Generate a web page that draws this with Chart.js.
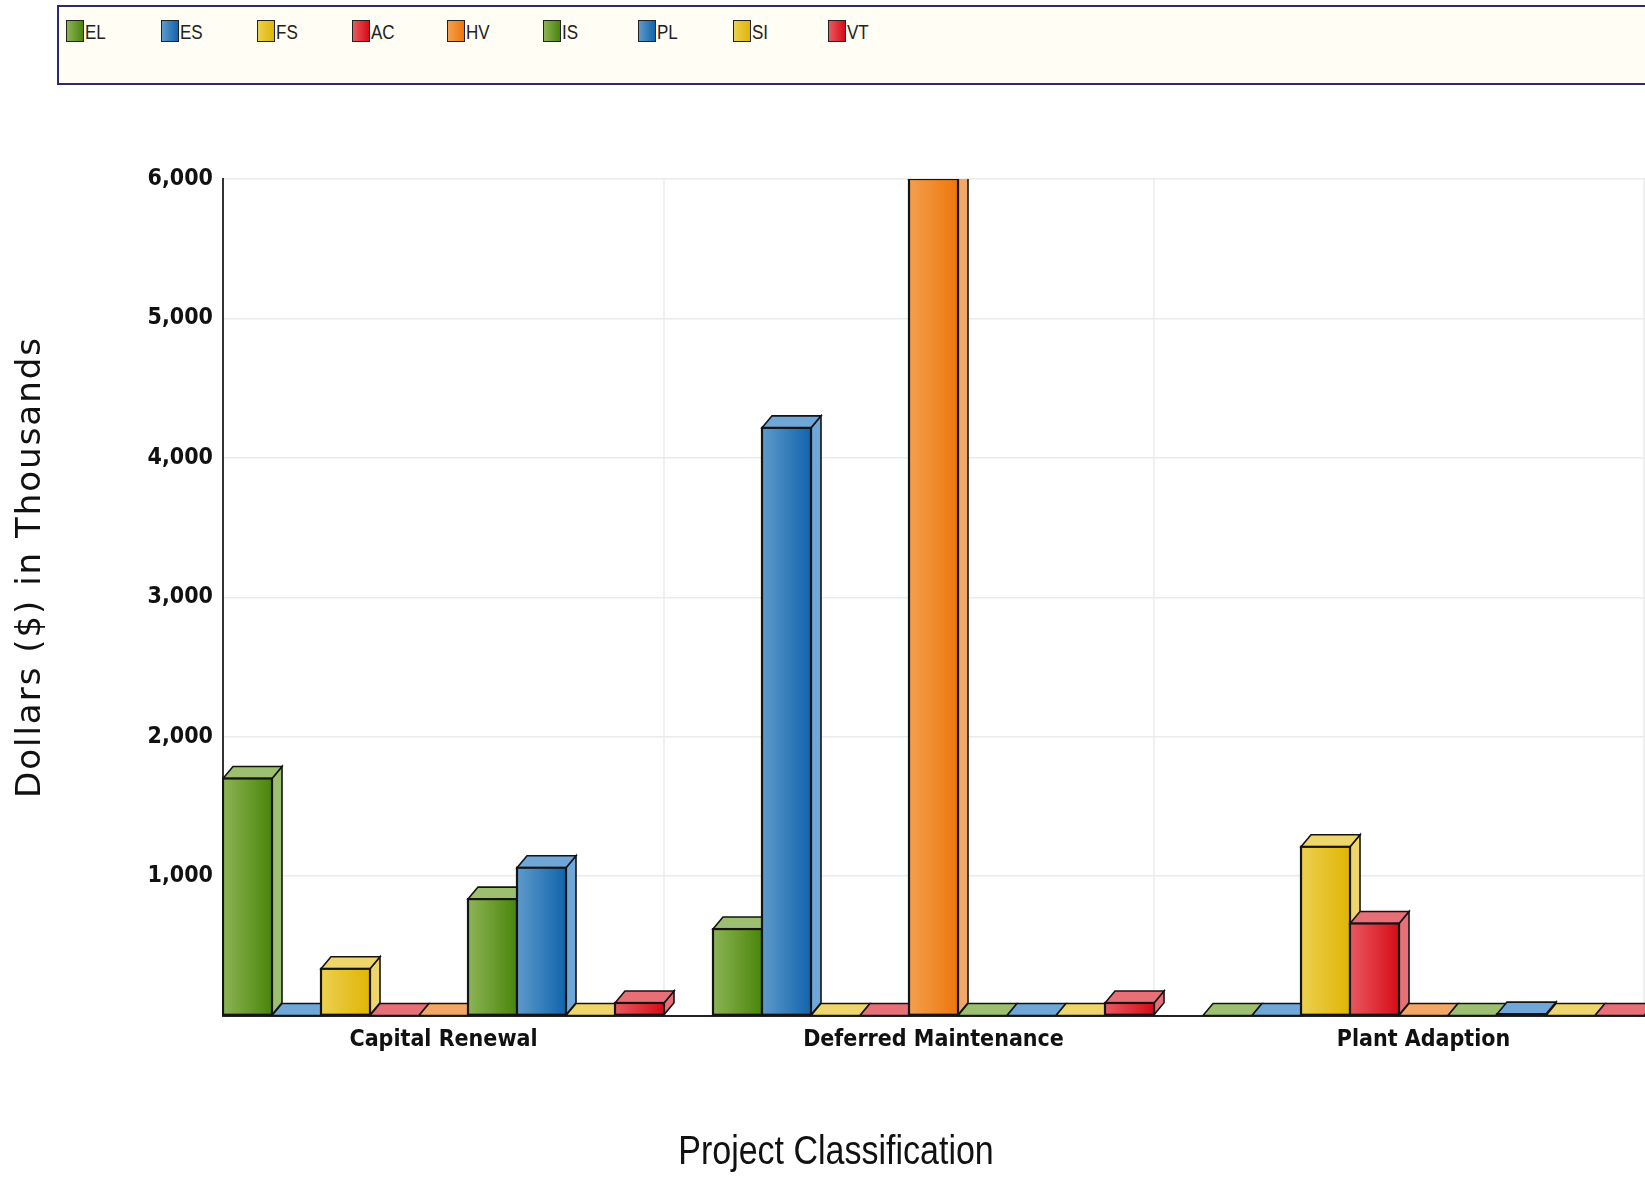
<!DOCTYPE html>
<html>
<head>
<meta charset="utf-8">
<title>Project Classification</title>
<script src="https://cdn.jsdelivr.net/npm/chart.js@4.4.0/dist/chart.umd.min.js"></script>
<style>
  html, body { margin: 0; padding: 0; background: #fff; overflow: hidden; }
  #wrap { position: relative; width: 1645px; height: 1177px; }
  #chart { position: absolute; left: 0; top: 0; }
  #legend {
    position: absolute; left: 57px; top: 5px; width: 1700px; height: 76px;
    border: 2px solid #2c2a6e; background: #fffdf4;
  }
  .item {
    position: absolute; top: 13px; display: flex; align-items: flex-start;
    font-family: "Liberation Sans Narrow", "Liberation Sans", sans-serif;
    font-size: 20px; color: #222; line-height: 24px;
  }
  .item .txt { display: inline-block; transform: scaleX(0.85); transform-origin: left center; }
  .sw { width: 16px; height: 20px; border: 1.5px solid #222; margin-right: 1px; }
</style>
</head>
<body>
<div id="wrap">
  <canvas id="chart" width="1645" height="1177"></canvas>
  <div id="legend"></div>
</div>
<script>
const categories = ['Capital Renewal', 'Deferred Maintenance', 'Plant Adaption'];
const seriesNames = ['EL', 'ES', 'FS', 'AC', 'HV', 'IS', 'PL', 'SI', 'VT'];

// values in thousands of dollars, one per category
const EL = [1700, 620, 0];
const ES = [0, 4215, 0];
const FS = [335, 0, 1210];
const AC = [0, 0, 660];
const HV = [0, 6000, 0];
const IS = [835, 0, 0];
const PL = [1060, 0, 10];
const SI = [0, 0, 0];
const VT = [90, 90, 0];
const seriesData = [EL, ES, FS, AC, HV, IS, PL, SI, VT];

const yMin = 0;
const yMax = 6000;
const yStep = 1000;
const yTitle = 'Dollars ($) in Thousands';
const xTitle = 'Project Classification';

// [front light, front dark, top/side face]
const green = ['#8cb456', '#4a850a', '#9dc070'];
const blue = ['#5e9acb', '#1164ac', '#6ea7d8'];
const yellow = ['#ecd050', '#e0b505', '#eed66c'];
const red = ['#ea5860', '#d60c16', '#e66f78'];
const orange = ['#f2a050', '#ee760a', '#f3a764'];
const palette = [green, blue, yellow, red, orange, green, blue, yellow, red];

const tickFont = { family: "'DejaVu Sans Condensed', 'DejaVu Sans', sans-serif", size: 23, weight: 'bold' };

// legend
const legendEl = document.getElementById('legend');
seriesNames.forEach((name, i) => {
  const item = document.createElement('div');
  item.className = 'item';
  item.style.left = (7 + i * 95.3) + 'px';
  item.innerHTML = `<span class="sw" style="background:linear-gradient(90deg, ${palette[i][0]}, ${palette[i][1]})"></span><span class="txt">${name}</span>`;
  legendEl.appendChild(item);
});

const depth = { dx: 10, dy: 12 };

const bars3d = {
  id: 'bars3d',
  beforeDatasetsDraw(chart) {
    // vertical grid lines sit at the right end of each group
    const { ctx, chartArea: a, scales: { x } } = chart;
    ctx.save();
    ctx.strokeStyle = '#ebebeb';
    ctx.lineWidth = 1.5;
    categories.forEach((c, i) => {
      const px = x.getPixelForValue(i + 0.45);
      ctx.beginPath();
      ctx.moveTo(px, a.top);
      ctx.lineTo(px, a.bottom);
      ctx.stroke();
    });
    ctx.restore();
  },
  afterDatasetsDraw(chart) {
    const { ctx, chartArea: a } = chart;
    ctx.save();
    ctx.beginPath();
    ctx.rect(a.left - 1, a.top, a.right - a.left + 2, a.bottom - a.top + 3);
    ctx.clip();
    ctx.lineJoin = 'miter';
    chart.data.datasets.forEach((ds, i) => {
      const meta = chart.getDatasetMeta(i);
      const col = palette[i];
      meta.data.forEach(bar => {
        const { x, y, base, width } = bar.getProps(['x', 'y', 'base', 'width'], true);
        const l = x - width / 2, r = x + width / 2;
        const { dx, dy } = depth;
        ctx.strokeStyle = '#141414';
        ctx.lineWidth = 1.6;
        // side
        ctx.beginPath();
        ctx.moveTo(r, y);
        ctx.lineTo(r + dx, y - dy);
        ctx.lineTo(r + dx, base - dy);
        ctx.lineTo(r, base);
        ctx.closePath();
        ctx.fillStyle = col[2];
        ctx.fill();
        ctx.stroke();
        // top
        ctx.beginPath();
        ctx.moveTo(l, y);
        ctx.lineTo(l + dx, y - dy);
        ctx.lineTo(r + dx, y - dy);
        ctx.lineTo(r, y);
        ctx.closePath();
        ctx.fill();
        ctx.stroke();
        // front
        if (base - y > 0.5) {
          const g = ctx.createLinearGradient(l, 0, r, 0);
          g.addColorStop(0, col[0]);
          g.addColorStop(1, col[1]);
          ctx.fillStyle = g;
          ctx.fillRect(l, y, width, base - y);
          ctx.lineWidth = 2.2;
          ctx.strokeRect(l, y, width, base - y);
        }
      });
    });
    ctx.restore();
  },
  afterDraw(chart) {
    const { ctx } = chart;
    ctx.save();
    ctx.fillStyle = '#111';
    ctx.textAlign = 'center';
    ctx.textBaseline = 'middle';
    ctx.save();
    ctx.translate(836, 1153);
    ctx.scale(0.85, 1);
    ctx.font = "40px 'Liberation Sans Narrow', 'Liberation Sans', sans-serif";
    ctx.fillText(xTitle, 0, 0);
    ctx.restore();
    ctx.translate(31, 567);
    ctx.rotate(-Math.PI / 2);
    ctx.font = "34px 'DejaVu Sans', sans-serif";
    ctx.letterSpacing = '2px';
    ctx.fillText(yTitle, 0, 0);
    ctx.restore();
  }
};

new Chart(document.getElementById('chart'), {
  type: 'bar',
  data: {
    datasets: seriesNames.map((name, i) => ({
      label: name,
      data: seriesData[i].map((v, j) => ({ x: j, y: v })),
      backgroundColor: 'rgba(0,0,0,0)',
      borderWidth: 0,
      categoryPercentage: 0.9,
      barPercentage: 1.0
    }))
  },
  options: {
    responsive: false,
    animation: false,
    layout: { padding: { top: 179, left: 0, right: 0, bottom: 0 } },
    plugins: {
      legend: { display: false },
      tooltip: { enabled: false }
    },
    scales: {
      x: {
        type: 'linear',
        bounds: 'data',
        offset: false,
        min: -0.45,
        max: 2.452,
        grid: { display: false, offset: false },
        border: { color: '#222', width: 2 },
        afterBuildTicks(scale) {
          scale.ticks = categories.map((c, i) => ({ value: i }));
        },
        ticks: {
          autoSkip: false,
          maxRotation: 0,
          padding: 3,
          color: '#111',
          font: tickFont,
          callback: v => categories[Math.round(v)] ?? ''
        },
        afterFit(scale) { scale.height = 161.5; }
      },
      y: {
        min: yMin,
        max: yMax,
        grid: { color: '#ebebeb', lineWidth: 1.5, drawTicks: false },
        border: { color: '#333', width: 2 },
        ticks: {
          stepSize: yStep,
          padding: 10,
          color: '#111',
          font: tickFont,
          callback: v => v === 0 ? '' : v.toLocaleString('en-US')
        },
        afterFit(scale) { scale.width = 223; }
      }
    }
  },
  plugins: [bars3d]
});
</script>
</body>
</html>
